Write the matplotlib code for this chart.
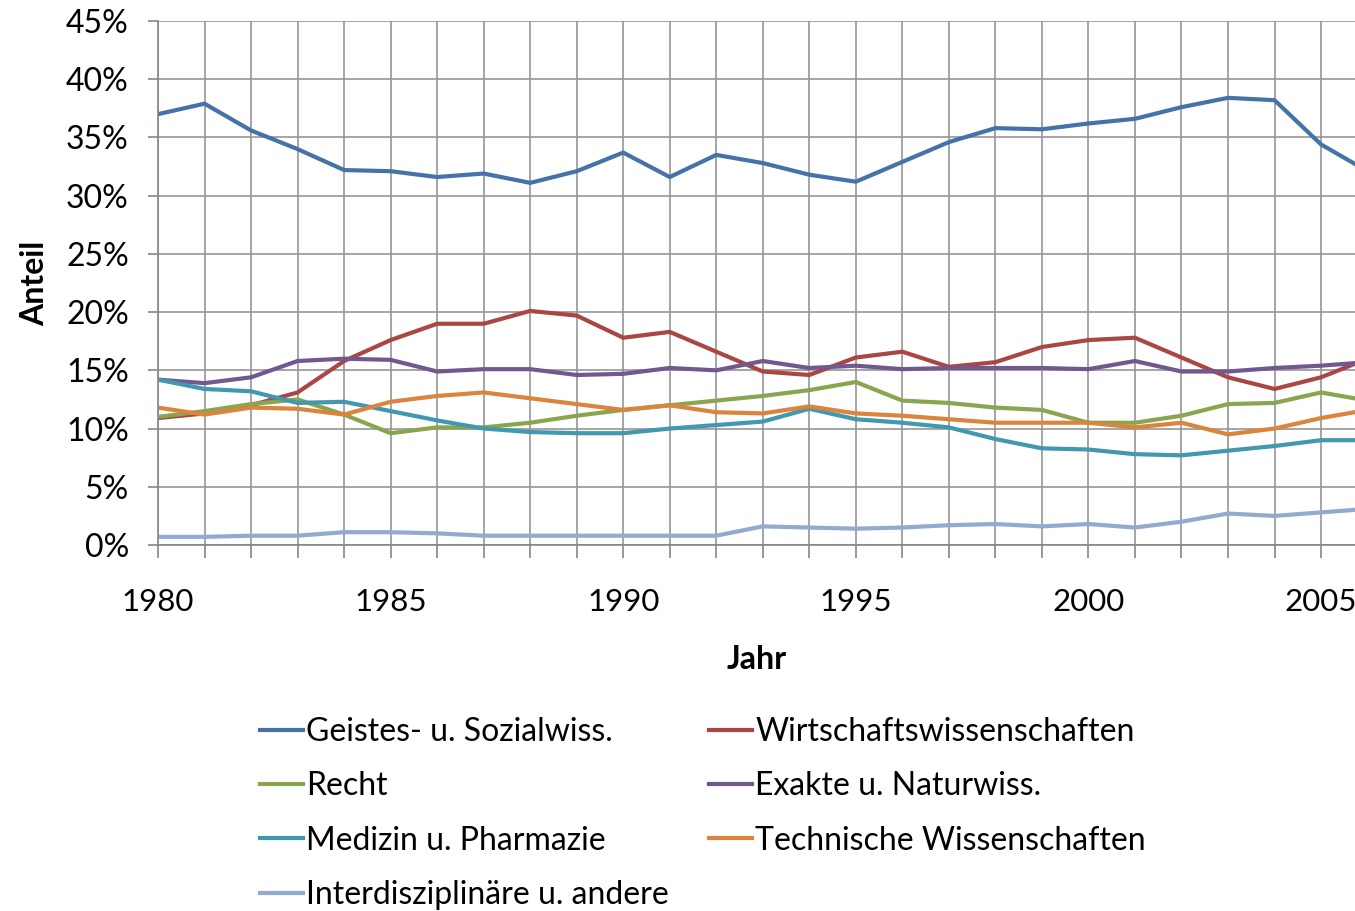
import matplotlib
matplotlib.use('Agg')
import matplotlib.pyplot as plt
from matplotlib.ticker import FuncFormatter, MultipleLocator

plt.rcParams['font.family'] = ['Lato', 'DejaVu Sans']

years = list(range(1980, 2007))

geistes = [37.0, 37.9, 35.6, 34.0, 32.2, 32.1, 31.6, 31.9, 31.1, 32.1, 33.7,
           31.6, 33.5, 32.8, 31.8, 31.2, 32.9, 34.6, 35.8, 35.7, 36.2, 36.6,
           37.6, 38.4, 38.2, 34.4, 32.1]
wirtschaft = [10.9, 11.3, 12.0, 13.1, 15.8, 17.6, 19.0, 19.0, 20.1, 19.7, 17.8,
              18.3, 16.6, 14.9, 14.6, 16.1, 16.6, 15.3, 15.7, 17.0, 17.6, 17.8,
              16.1, 14.4, 13.4, 14.4, 16.0]
recht = [11.0, 11.5, 12.1, 12.5, 11.2, 9.6, 10.1, 10.1, 10.5, 11.1, 11.6,
         12.0, 12.4, 12.8, 13.3, 14.0, 12.4, 12.2, 11.8, 11.6, 10.5, 10.5,
         11.1, 12.1, 12.2, 13.1, 12.4]
exakte = [14.2, 13.9, 14.4, 15.8, 16.0, 15.9, 14.9, 15.1, 15.1, 14.6, 14.7,
          15.2, 15.0, 15.8, 15.2, 15.4, 15.1, 15.2, 15.2, 15.2, 15.1, 15.8,
          14.9, 14.9, 15.2, 15.4, 15.7]
medizin = [14.2, 13.4, 13.2, 12.2, 12.3, 11.5, 10.7, 10.0, 9.7, 9.6, 9.6,
           10.0, 10.3, 10.6, 11.7, 10.8, 10.5, 10.1, 9.1, 8.3, 8.2, 7.8,
           7.7, 8.1, 8.5, 9.0, 9.0]
technik = [11.8, 11.2, 11.8, 11.7, 11.2, 12.3, 12.8, 13.1, 12.6, 12.1, 11.6,
           12.0, 11.4, 11.3, 11.9, 11.3, 11.1, 10.8, 10.5, 10.5, 10.5, 10.1,
           10.5, 9.5, 10.0, 10.9, 11.6]
interdis = [0.7, 0.7, 0.8, 0.8, 1.1, 1.1, 1.0, 0.8, 0.8, 0.8, 0.8,
            0.8, 0.8, 1.6, 1.5, 1.4, 1.5, 1.7, 1.8, 1.6, 1.8, 1.5,
            2.0, 2.7, 2.5, 2.8, 3.1]

series = [
    ('Geistes- u. Sozialwiss.', geistes, '#4572A7'),
    ('Wirtschaftswissenschaften', wirtschaft, '#AA4643'),
    ('Recht', recht, '#89A54E'),
    ('Exakte u. Naturwiss.', exakte, '#71588F'),
    ('Medizin u. Pharmazie', medizin, '#4198AF'),
    ('Technische Wissenschaften', technik, '#DB843D'),
    ('Interdisziplinäre u. andere', interdis, '#93A9CF'),
]

fs = 23

fig = plt.figure(figsize=(13.55, 9.11), dpi=100)
ax = fig.add_axes([158 / 1355, 1 - 545 / 911, 1 - 158 / 1355, 524 / 911])

handles = {}
for name, vals, col in series:
    h, = ax.plot(years, vals, color=col, lw=3, label=name,
                 solid_joinstyle='round')
    handles[name] = h

ax.set_xlim(1980, 2005.73)
ax.set_ylim(0, 45)
ax.xaxis.set_major_locator(MultipleLocator(5))
ax.xaxis.set_minor_locator(MultipleLocator(1))
ax.yaxis.set_major_locator(MultipleLocator(5))
ax.yaxis.set_major_formatter(FuncFormatter(lambda v, p: '%d%%' % v))

gc = '#969696'
ax.grid(True, which='both', color=gc, lw=1.2)
ax.set_axisbelow(True)
for s in ['top', 'right']:
    ax.spines[s].set_visible(False)
for s in ['left', 'bottom']:
    ax.spines[s].set_color('#868686')
    ax.spines[s].set_linewidth(1.2)
ax.tick_params(axis='x', which='both', length=9, color='#868686', width=1.2,
               labelsize=22.5, pad=22)
ax.tick_params(axis='y', length=7, color='#868686', width=1.2,
               labelsize=fs, pad=14)

ax.set_xlabel('Jahr', fontsize=fs, fontweight='bold', labelpad=21)
ax.set_ylabel('Anteil', fontsize=fs, fontweight='bold', labelpad=12)

order = ['Geistes- u. Sozialwiss.', 'Recht', 'Medizin u. Pharmazie',
         'Interdisziplinäre u. andere', 'Wirtschaftswissenschaften',
         'Exakte u. Naturwiss.', 'Technische Wissenschaften']
fig.legend([handles[n] for n in order], order, ncol=2, frameon=False,
           loc='upper left', bbox_to_anchor=(260 / 1355, 1 - 717 / 911),
           fontsize=fs, handlelength=1.35, handletextpad=0.1,
           columnspacing=1.25, labelspacing=0.76, borderaxespad=0,
           borderpad=0)

fig.savefig('out.png', dpi=100)
